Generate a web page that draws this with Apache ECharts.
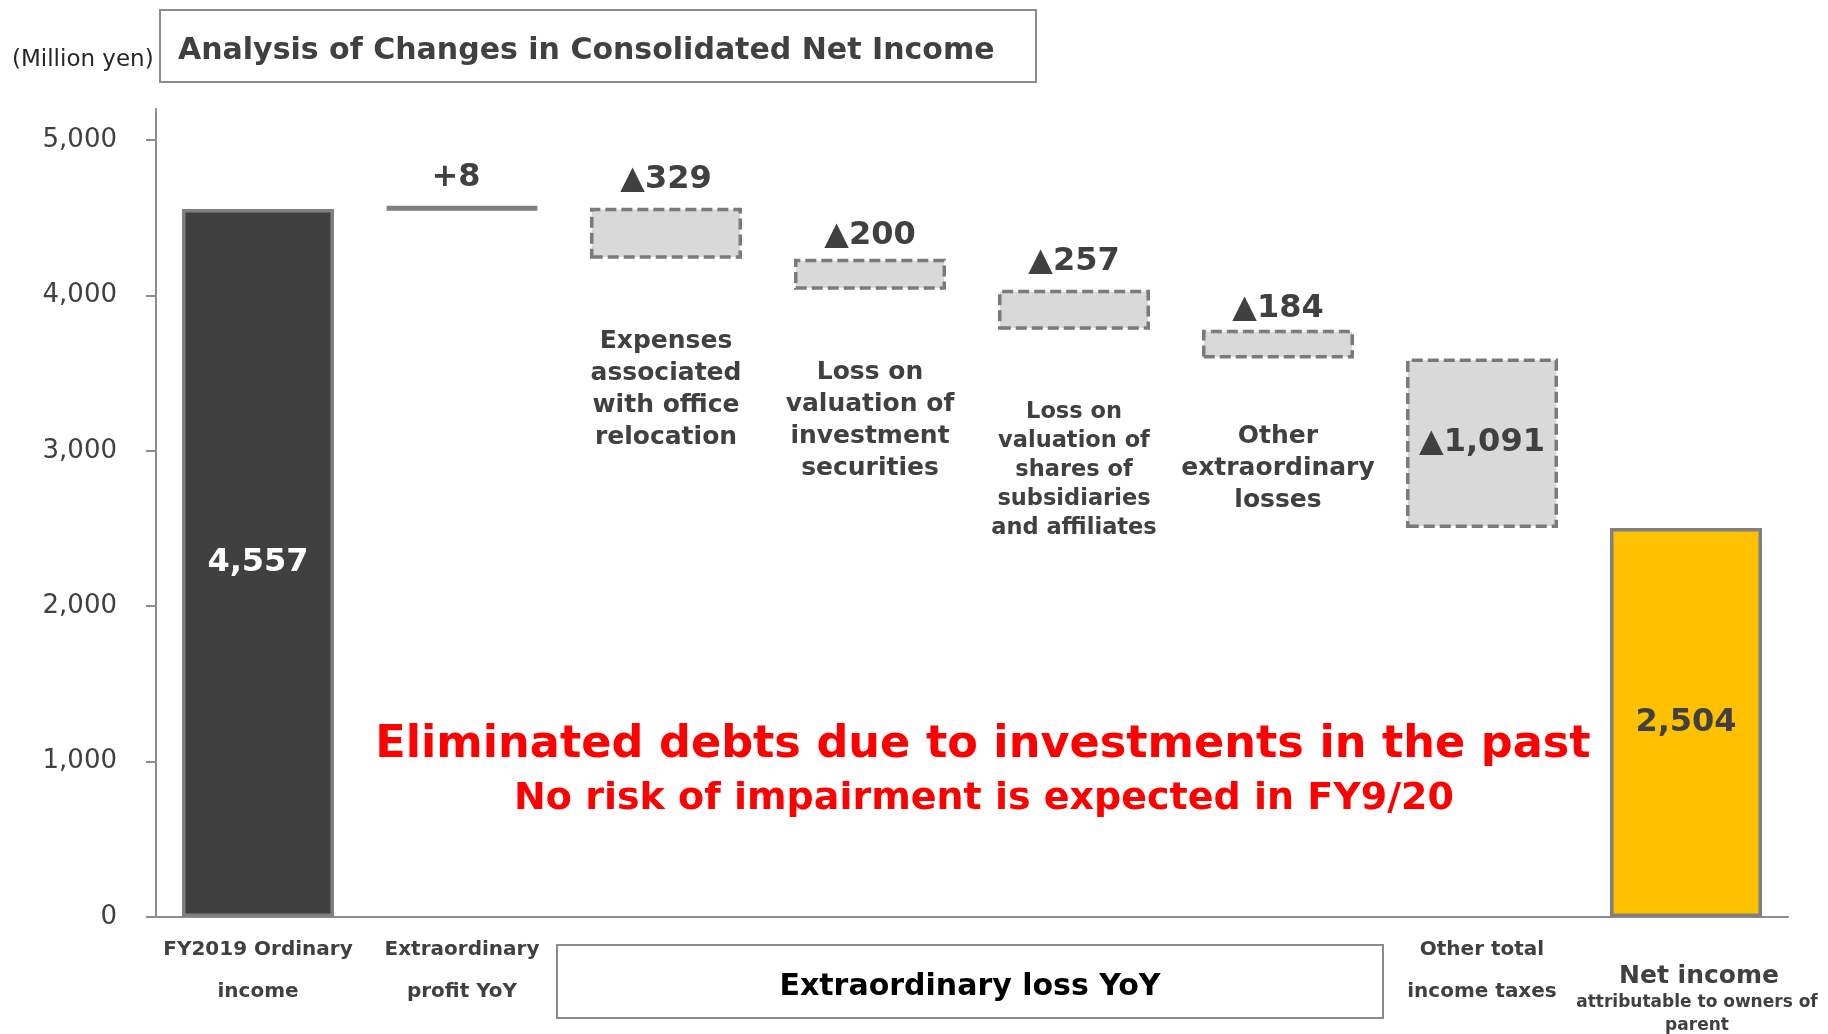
<!DOCTYPE html>
<html>
<head>
<meta charset="utf-8">
<script src="https://cdn.jsdelivr.net/npm/echarts@6/dist/echarts.min.js"></script>
<style>
html,body{margin:0;padding:0;background:#fff;}
#chart{width:1828px;height:1034px;}
</style>
</head>
<body>
<div id="chart"></div>
<script>
// ---- data ----
const categories = [
  'FY2019 Ordinary income',
  'Extraordinary profit YoY',
  'Expenses associated with office relocation',
  'Loss on valuation of investment securities',
  'Loss on valuation of shares of subsidiaries and affiliates',
  'Other extraordinary losses',
  'Other total income taxes',
  'Net income attributable to owners of parent'
];
// 'total' = bar from zero, 'delta' = change from running total
const kinds = ['total', 'delta', 'delta', 'delta', 'delta', 'delta', 'delta', 'total'];
const values = [4557, 8, -329, -200, -257, -184, -1091, 2504];
const captions = ['', '', 'Expenses\nassociated\nwith office\nrelocation',
  'Loss on\nvaluation of\ninvestment\nsecurities',
  'Loss on\nvaluation of\nshares of\nsubsidiaries\nand affiliates',
  'Other\nextraordinary\nlosses', '', ''];
const yTicks = [0, 1000, 2000, 3000, 4000, 5000];
const FONT = '"DejaVu Sans", Verdana, sans-serif';

// ---- waterfall build ----
let running = 0;
const baseData = [], barData = [];
values.forEach((v, i) => {
  if (kinds[i] === 'total') {
    baseData.push(0); barData.push(v); running = v;
  } else {
    const next = running + v;
    baseData.push(Math.min(running, next));
    barData.push(Math.abs(v));
    running = next;
  }
});
const fmt = n => n.toLocaleString('en-US');
const valueText = values.map((v, i) => kinds[i] === 'total' ? fmt(v) : (v >= 0 ? '+' + fmt(v) : '\u25B2' + fmt(-v)));

const labelTop = {show: true, position: 'top', color: '#404040', fontWeight: 'bold', fontSize: 32, fontFamily: FONT};
const boxStyle = {color: '#d9d9d9', borderColor: '#7a7a7a', borderWidth: 3.5, borderType: [11, 5]};
const itemStyles = [
  {itemStyle: {color: '#404040', borderColor: '#808080', borderWidth: 3.5},
   label: {show: true, position: 'inside', color: '#fff', fontWeight: 'bold', fontSize: 32, fontFamily: FONT}},
  {itemStyle: {color: '#808080', borderColor: '#808080', borderWidth: 5, borderRadius: 3},
   label: Object.assign({}, labelTop, {distance: 12, offset: [-6, 0]})},
  {itemStyle: boxStyle, label: Object.assign({}, labelTop, {distance: 12})},
  {itemStyle: boxStyle, label: Object.assign({}, labelTop, {distance: 7})},
  {itemStyle: boxStyle, label: Object.assign({}, labelTop, {distance: 12})},
  {itemStyle: boxStyle, label: Object.assign({}, labelTop, {distance: 5})},
  {itemStyle: boxStyle, label: {show: true, position: 'inside', color: '#404040', fontWeight: 'bold', fontSize: 32, fontFamily: FONT}},
  {itemStyle: {color: '#FFC000', borderColor: '#808080', borderWidth: 3.5},
   label: {show: true, position: 'inside', color: '#404040', fontWeight: 'bold', fontSize: 32, fontFamily: FONT}}
];
const captionDist = [0, 0, 67, 67, 68, 62, 0, 0];
const captionSize = [25, 25, 25, 25, 22.5, 25, 25, 25];
const captionLH = [32, 32, 32, 32, 29, 32, 32, 32];

const chart = echarts.init(document.getElementById('chart'));
chart.setOption({
  animation: false,
  backgroundColor: '#fff',
  grid: {left: 156, right: 40, top: 109, bottom: 116},
  xAxis: {
    type: 'category',
    data: categories,
    axisLine: {lineStyle: {color: '#8c8c8c', width: 2}},
    axisTick: {show: false},
    axisLabel: {
      interval: 0, margin: 12,
      formatter: (val, idx) => {
        if (idx === 0) return '{c|FY2019 Ordinary}\n{c|income}';
        if (idx === 1) return '{c|Extraordinary}\n{c|profit YoY}';
        if (idx === 6) return '{c|Other total}\n{c|income taxes}';
        if (idx === 7) return '{g| }\n{n|Net income}\n{s|attributable to owners of}\n{s|parent}';
        return '';
      },
      rich: {
        c: {fontSize: 20, fontWeight: 'bold', color: '#404040', lineHeight: 42, fontFamily: FONT, align: 'center'},
        g: {fontSize: 1, lineHeight: 32, align: 'center'},
        n: {fontSize: 25, fontWeight: 'bold', color: '#404040', lineHeight: 30, padding: [0, 0, 0, 26], fontFamily: FONT, align: 'center'},
        s: {fontSize: 17, fontWeight: 'bold', color: '#404040', lineHeight: 23, padding: [0, 0, 0, 22], fontFamily: FONT, align: 'center'}
      }
    }
  },
  yAxis: {
    type: 'value', min: 0, max: 5200, interval: 1000,
    splitLine: {show: false},
    axisLine: {show: true, lineStyle: {color: '#8c8c8c', width: 2}},
    axisTick: {show: true, length: 10, customValues: yTicks, lineStyle: {color: '#8c8c8c', width: 2}},
    axisLabel: {customValues: yTicks, margin: 39, color: '#404040', fontSize: 26, fontFamily: FONT,
      formatter: v => fmt(v)}
  },
  series: [
    {
      type: 'bar', stack: 'w', barWidth: 152, silent: true,
      itemStyle: {color: 'rgba(0,0,0,0)'},
      data: baseData.map((b, i) => ({
        value: b,
        label: captions[i] ? {show: true, position: 'insideTop', distance: captionDist[i], formatter: captions[i],
          color: '#404040', fontWeight: 'bold', fontSize: captionSize[i], lineHeight: captionLH[i], fontFamily: FONT, align: 'center'} : {show: false}
      }))
    },
    {
      type: 'bar', stack: 'w', barWidth: 152,
      data: barData.map((v, i) => Object.assign({value: v}, itemStyles[i],
        {label: Object.assign({formatter: valueText[i]}, itemStyles[i].label)}))
    }
  ],
  graphic: [
    {type: 'rect', shape: {x: 160, y: 10, width: 876, height: 72}, style: {fill: 'none', stroke: '#8c8c8c', lineWidth: 2}},
    {type: 'text', x: 178, y: 51, style: {text: 'Analysis of Changes in Consolidated Net Income', font: 'bold 30px ' + FONT, fill: '#404040', textVerticalAlign: 'middle'}},
    {type: 'text', x: 12, y: 60, style: {text: '(Million yen)', font: '23px ' + FONT, fill: '#262626', textVerticalAlign: 'middle'}},
    {type: 'rect', shape: {x: 557, y: 945, width: 826, height: 73}, style: {fill: 'none', stroke: '#8c8c8c', lineWidth: 2}},
    {type: 'text', x: 970, y: 987, style: {text: 'Extraordinary loss YoY', font: 'bold 30px ' + FONT, fill: '#000', textAlign: 'center', textVerticalAlign: 'middle'}},
    {type: 'text', x: 983, y: 745, style: {text: 'Eliminated debts due to investments in the past', font: 'bold 44.6px ' + FONT, fill: '#ff0000', textAlign: 'center', textVerticalAlign: 'middle'}},
    {type: 'text', x: 984, y: 799, style: {text: 'No risk of impairment is expected in FY9/20', font: 'bold 38px ' + FONT, fill: '#ff0000', textAlign: 'center', textVerticalAlign: 'middle'}}
  ]
});
</script>
</body>
</html>
